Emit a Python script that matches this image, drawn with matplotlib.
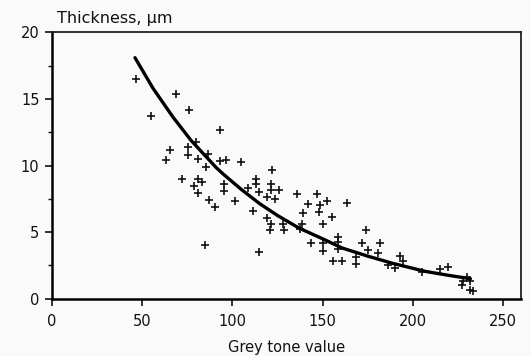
import matplotlib
matplotlib.use("Agg")
import matplotlib.pyplot as plt
from matplotlib.ticker import MultipleLocator

# Measured samples: grey tone value vs. coating thickness (µm)
grey_tone = [46.5, 55, 69, 76, 93, 80, 65.5, 75.5, 75.5, 63, 81, 86.5, 93, 96.5,
             85.5, 105, 122, 72, 81, 78.5, 83, 81, 87, 90.5, 95.3, 95.3, 101.3, 85,
             113, 113.3, 121.6, 108.7, 115, 121.6, 126, 119, 123.4, 136, 147, 142,
             152.5, 148.5, 163.5, 111.4, 139, 148, 155.5, 119, 121.6, 121, 128,
             128.7, 138.5, 137.3, 150.5, 174.3, 143.8, 150.2, 150.2, 158.5, 158.5,
             158.5, 155.8, 160.7, 168.7, 168.7, 172, 175, 182, 181, 186.3, 190,
             192.7, 194.6, 205, 215, 219.5, 228, 231.5, 227.5, 231.5, 233.4, 230,
             115]
thickness = [16.5, 13.7, 15.4, 14.2, 12.7, 11.8, 11.2, 11.4, 10.8, 10.4, 10.5, 10.9,
             10.35, 10.45, 9.9, 10.3, 9.7, 9.0, 9.0, 8.5, 8.8, 7.95, 7.4, 6.85, 8.65,
             8.1, 7.3, 4.0, 9.0, 8.65, 8.65, 8.3, 8.0, 8.15, 8.15, 7.65, 7.5, 7.85,
             7.9, 7.1, 7.35, 7.0, 7.15, 6.6, 6.45, 6.5, 6.1, 6.05, 5.6, 5.15, 5.6,
             5.15, 5.6, 5.2, 5.6, 5.15, 4.15, 4.2, 3.6, 4.65, 4.25, 3.7, 2.8, 2.8,
             3.1, 2.6, 4.2, 3.65, 4.2, 3.4, 2.5, 2.3, 3.2, 2.8, 2.0, 2.2, 2.35, 1.3,
             1.3, 1.0, 0.65, 0.6, 1.6, 3.5]

# Fitted calibration curve
fit_grey = [46, 56, 67, 77, 91, 95, 105, 115, 125, 137, 150, 161, 175, 189, 207, 220, 232]
fit_thick = [18.1, 15.8, 13.65, 11.9, 9.85, 9.35, 8.2, 7.15, 6.25, 5.3, 4.5, 3.8, 3.2,
             2.65, 2.05, 1.75, 1.5]

x_ticks = [0, 50, 100, 150, 200, 250]
y_ticks = [0, 5, 10, 15, 20]

plt.rcParams["font.family"] = ["DejaVu Sans"]
bg = "#fafafa"
fig = plt.figure(figsize=(5.31, 3.56), dpi=100, facecolor=bg)
ax = fig.add_axes([0.098, 0.161, 0.883, 0.748], facecolor=bg)

ax.plot(grey_tone, thickness, linestyle="none", marker="+", color="#111111",
        markersize=5.8, markeredgewidth=1.2)
ax.plot(fit_grey, fit_thick, color="#000000", linewidth=2.4, solid_capstyle="round",
        solid_joinstyle="round")

ax.set_xlim(0, 260)
ax.set_ylim(0, 20)
ax.set_xticks(x_ticks)
ax.set_yticks(y_ticks)
ax.yaxis.set_minor_locator(MultipleLocator(2.5))

ax.tick_params(axis="both", which="major", direction="out", length=5, width=1.2,
               labelsize=10.5, colors="#111111", pad=4)
ax.tick_params(axis="y", which="minor", direction="out", length=3, width=1.0,
               colors="#111111")
ax.tick_params(axis="x", which="major", pad=6)

for side in ("left", "bottom"):
    ax.spines[side].set_linewidth(1.8)
    ax.spines[side].set_color("#000000")
for side in ("top", "right"):
    ax.spines[side].set_linewidth(1.3)
    ax.spines[side].set_color("#222222")

ax.set_xlabel("Grey tone value", fontsize=10.5, color="#111111", labelpad=8)
fig.text(0.107, 0.949, "Thickness, µm", fontsize=11.5, color="#111111",
         ha="left", va="center")

fig.savefig("out.png", dpi=100, facecolor=bg)
